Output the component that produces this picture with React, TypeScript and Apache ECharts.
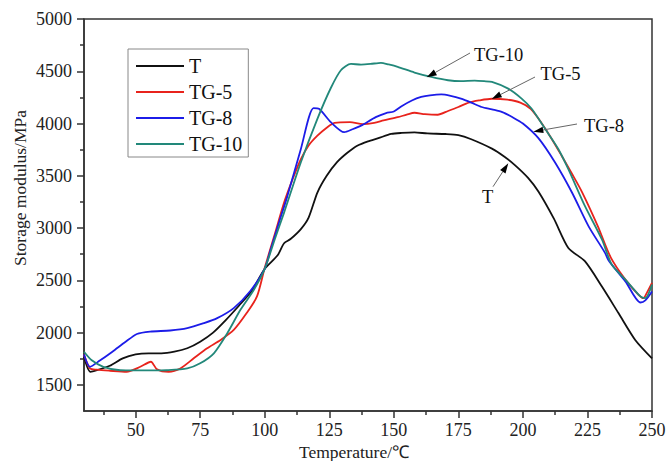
import React, { useEffect, useRef } from "react";
import * as echarts from "echarts";

// ---- data ----
const tempT = [30, 32.5, 35, 40, 45, 50, 55, 60, 65, 70, 75, 80, 85, 90, 95, 100, 105, 107.5, 110, 114, 117, 120.4, 124, 128, 132, 136, 140, 144, 149, 153, 158, 163, 170, 175, 180, 188, 193, 197, 202, 206, 212, 217.6, 224, 230.6, 237, 243.5, 250];
const valT = [1770, 1625, 1640, 1683, 1754, 1792, 1802, 1802, 1817, 1850, 1913, 2000, 2122, 2257, 2400, 2610, 2740, 2855, 2895, 2990, 3100, 3340, 3500, 3630, 3720, 3790, 3830, 3860, 3900, 3910, 3915, 3905, 3900, 3890, 3850, 3760, 3680, 3600, 3480, 3350, 3090, 2810, 2683, 2440, 2187, 1930, 1754];

const tempTG5 = [30, 32.3, 35, 40, 46.5, 51.8, 55.9, 58.3, 62.8, 67.3, 72.5, 77.7, 82.9, 88, 93, 97, 100, 104, 107.5, 111, 114, 117, 120.4, 124, 127, 133, 138, 142.4, 146, 151.5, 155, 158, 162, 167, 171, 175, 179, 183, 188, 194, 199, 203, 207, 211, 215, 219, 223, 229, 234, 239.7, 244.8, 246.7, 248, 250];
const valTG5 = [1790, 1657, 1645, 1635, 1625, 1673, 1721, 1648, 1625, 1657, 1754, 1850, 1930, 2026, 2187, 2346, 2620, 2950, 3244, 3480, 3660, 3790, 3884, 3960, 4007, 4013, 3995, 4007, 4030, 4061, 4085, 4103, 4090, 4084, 4120, 4158, 4200, 4221, 4237, 4228, 4200, 4140, 4013, 3860, 3692, 3520, 3340, 3019, 2720, 2507, 2362, 2330, 2380, 2475];

const tempTG8 = [30, 32.3, 36, 41, 46, 50.5, 55.6, 63.4, 70, 76.4, 81.6, 88, 94.5, 100, 102.3, 105.5, 108.8, 114, 118.9, 121, 125.6, 130.8, 134, 137.3, 143, 147, 150, 153, 157, 160.6, 164, 168.4, 172, 176, 180, 184, 188, 192, 196, 200, 206, 212.4, 219, 225.4, 231.8, 233.2, 239.7, 245.5, 247.4, 250];
const valTG8 = [1790, 1673, 1730, 1817, 1910, 1987, 2010, 2020, 2042, 2090, 2138, 2234, 2400, 2610, 2795, 3050, 3308, 3757, 4148, 4141, 4013, 3917, 3945, 3980, 4061, 4100, 4115, 4165, 4220, 4254, 4270, 4279, 4265, 4238, 4200, 4158, 4135, 4110, 4060, 4000, 3860, 3629, 3340, 3019, 2763, 2690, 2490, 2288, 2308, 2394];

const tempTG10 = [30, 33, 37.5, 44, 50, 56, 62, 70, 75, 80.3, 85.5, 90.6, 95.8, 100, 104, 107.5, 114, 120.4, 125.6, 129.5, 133.4, 137.3, 141, 145, 148, 151.5, 158, 164.5, 171, 176, 181.3, 185, 188, 194.3, 199.5, 203.4, 208.6, 213.7, 217.6, 224, 230.6, 234.4, 239.7, 245.5, 247.4, 250];
const valTG10 = [1817, 1735, 1673, 1640, 1638, 1638, 1640, 1657, 1706, 1802, 1994, 2218, 2410, 2610, 2900, 3148, 3629, 4045, 4340, 4510, 4570, 4564, 4570, 4581, 4565, 4542, 4488, 4446, 4414, 4405, 4410, 4405, 4398, 4334, 4238, 4141, 3949, 3757, 3564, 3212, 2891, 2651, 2507, 2346, 2330, 2459];

const seriesNames = ["T", "TG-5", "TG-8", "TG-10"];
const seriesColors = ["#111111", "#e8231c", "#1c1ce8", "#22887a"];

const xMajor = [50, 75, 100, 125, 150, 175, 200, 225, 250];
const xMinor = [37.5, 62.5, 87.5, 112.5, 137.5, 162.5, 187.5, 212.5, 237.5];
const yMajor = [1500, 2000, 2500, 3000, 3500, 4000, 4500, 5000];
const yMinor = [1750, 2250, 2750, 3250, 3750, 4250, 4750];

const xTitle = "Temperature/℃";
const yTitle = "Storage modulus/MPa";

const FONT = "Liberation Serif";

function zip(xs: number[], ys: number[]) {
  return xs.map((x, i) => [x, ys[i]]);
}

function arrow(x1: number, y1: number, x2: number, y2: number) {
  const dx = x2 - x1, dy = y2 - y1;
  const L = Math.hypot(dx, dy);
  const ux = dx / L, uy = dy / L;
  const hl = 10, hw = 3.2;
  const bx = x2 - ux * hl, by = y2 - uy * hl;
  return [
    { type: "line", z: 100, shape: { x1, y1, x2: bx, y2: by }, style: { stroke: "#666", lineWidth: 1 } },
    {
      type: "polygon", z: 100,
      shape: { points: [[x2, y2], [bx - uy * hw, by + ux * hw], [bx + uy * hw, by - ux * hw]] },
      style: { fill: "#000" },
    },
  ];
}

function label(text: string, x: number, y: number) {
  return {
    type: "text", z: 100, x, y,
    style: { text, fontSize: 18.5, fontFamily: FONT, fill: "#111", align: "left", verticalAlign: "middle" },
  };
}

export default function App() {
  const ref = useRef<HTMLDivElement>(null);
  useEffect(() => {
    if (!ref.current) return;
    const chart = echarts.init(ref.current, undefined, { renderer: "svg" });
    const axisLine = { show: true, lineStyle: { color: "#333", width: 1.5 } };
    const data = [zip(tempT, valT), zip(tempTG5, valTG5), zip(tempTG8, valTG8), zip(tempTG10, valTG10)];
    const staticGraphics: any[] = [
      {
        type: "text", x: 354, y: 452,
        style: { text: xTitle, fontSize: 17.5, fontFamily: FONT, fill: "#222", align: "center", verticalAlign: "middle" },
      },
      {
        type: "text", x: 20, y: 188, rotation: Math.PI / 2,
        style: { text: yTitle, fontSize: 17.5, fontFamily: FONT, fill: "#222", align: "center", verticalAlign: "middle" },
      },
      ...arrow(470, 53, 426.7, 77.3),
      label("TG-10", 474, 55),
      ...arrow(535, 77, 491.7, 99),
      label("TG-5", 540.5, 74),
      ...arrow(577, 124, 533.3, 131.7),
      label("TG-8", 584, 126),
      ...arrow(493, 186.7, 508.3, 163.3),
      label("T", 482, 197),
    ];
    chart.setOption({
      animation: false,
      backgroundColor: "#fff",
      textStyle: { fontFamily: FONT },
      grid: {
        left: 84, top: 19, right: 15, bottom: 50,
        show: true, borderColor: "#333", borderWidth: 1.5,
        containLabel: false, outerBoundsMode: "none",
      },
      legend: {
        orient: "vertical",
        left: 128, top: 49,
        padding: [7, 6, 3, 8],
        icon: "rect",
        itemWidth: 48, itemHeight: 2, itemGap: 6,
        borderColor: "#888", borderWidth: 1,
        textStyle: { fontSize: 20, fontFamily: FONT, color: "#111", lineHeight: 20 },
        data: seriesNames,
      },
      xAxis: [
        {
          type: "value", min: 30, max: 250,
          axisLine,
          splitLine: { show: false },
          axisTick: { show: true, length: 7, customValues: xMajor, lineStyle: { color: "#333", width: 1.5 } },
          axisLabel: { show: false },
        },
        {
          type: "value", min: 30, max: 250, position: "bottom",
          axisLine: { show: false },
          splitLine: { show: false },
          axisTick: { show: true, length: 4, customValues: xMinor, lineStyle: { color: "#333", width: 1.5 } },
          axisLabel: { show: false },
        },
      ],
      yAxis: [
        {
          type: "value", min: 1250, max: 5000,
          axisLine,
          splitLine: { show: false },
          axisTick: { show: true, length: 7, customValues: yMajor, lineStyle: { color: "#333", width: 1.5 } },
          axisLabel: { show: false },
        },
        {
          type: "value", min: 1250, max: 5000, position: "left",
          axisLine: { show: false },
          splitLine: { show: false },
          axisTick: { show: true, length: 4, customValues: yMinor, lineStyle: { color: "#333", width: 1.5 } },
          axisLabel: { show: false },
        },
      ],
      series: seriesNames.map((name, i) => ({
        name,
        type: "line",
        data: data[i],
        symbol: "none",
        smooth: 0.25,
        color: seriesColors[i],
        lineStyle: { color: seriesColors[i], width: 1.8 },
        z: 10 + i,
      })),
      graphic: staticGraphics,
    });

    // tick labels placed through the axes' own scales
    const bottomY = chart.convertToPixel({ yAxisIndex: 0 }, 1250) as number;
    const leftX = chart.convertToPixel({ xAxisIndex: 0 }, 30) as number;
    const tickLabels: any[] = [];
    xMajor.forEach((v) => {
      const px = chart.convertToPixel({ xAxisIndex: 0 }, v) as number;
      tickLabels.push({
        type: "text", x: px, y: bottomY + 10,
        style: { text: String(v), fontSize: 18, fontFamily: FONT, fill: "#222", align: "center", verticalAlign: "top" },
      });
    });
    yMajor.forEach((v) => {
      const py = chart.convertToPixel({ yAxisIndex: 0 }, v) as number;
      tickLabels.push({
        type: "text", x: leftX - 12, y: py,
        style: { text: String(v), fontSize: 18, fontFamily: FONT, fill: "#222", align: "right", verticalAlign: "middle" },
      });
    });
    chart.setOption({ graphic: [...staticGraphics, ...tickLabels] });
    return () => chart.dispose();
  }, []);
  return <div ref={ref} style={{ position: "fixed", left: 0, top: 0, width: 667, height: 461 }} />;
}
